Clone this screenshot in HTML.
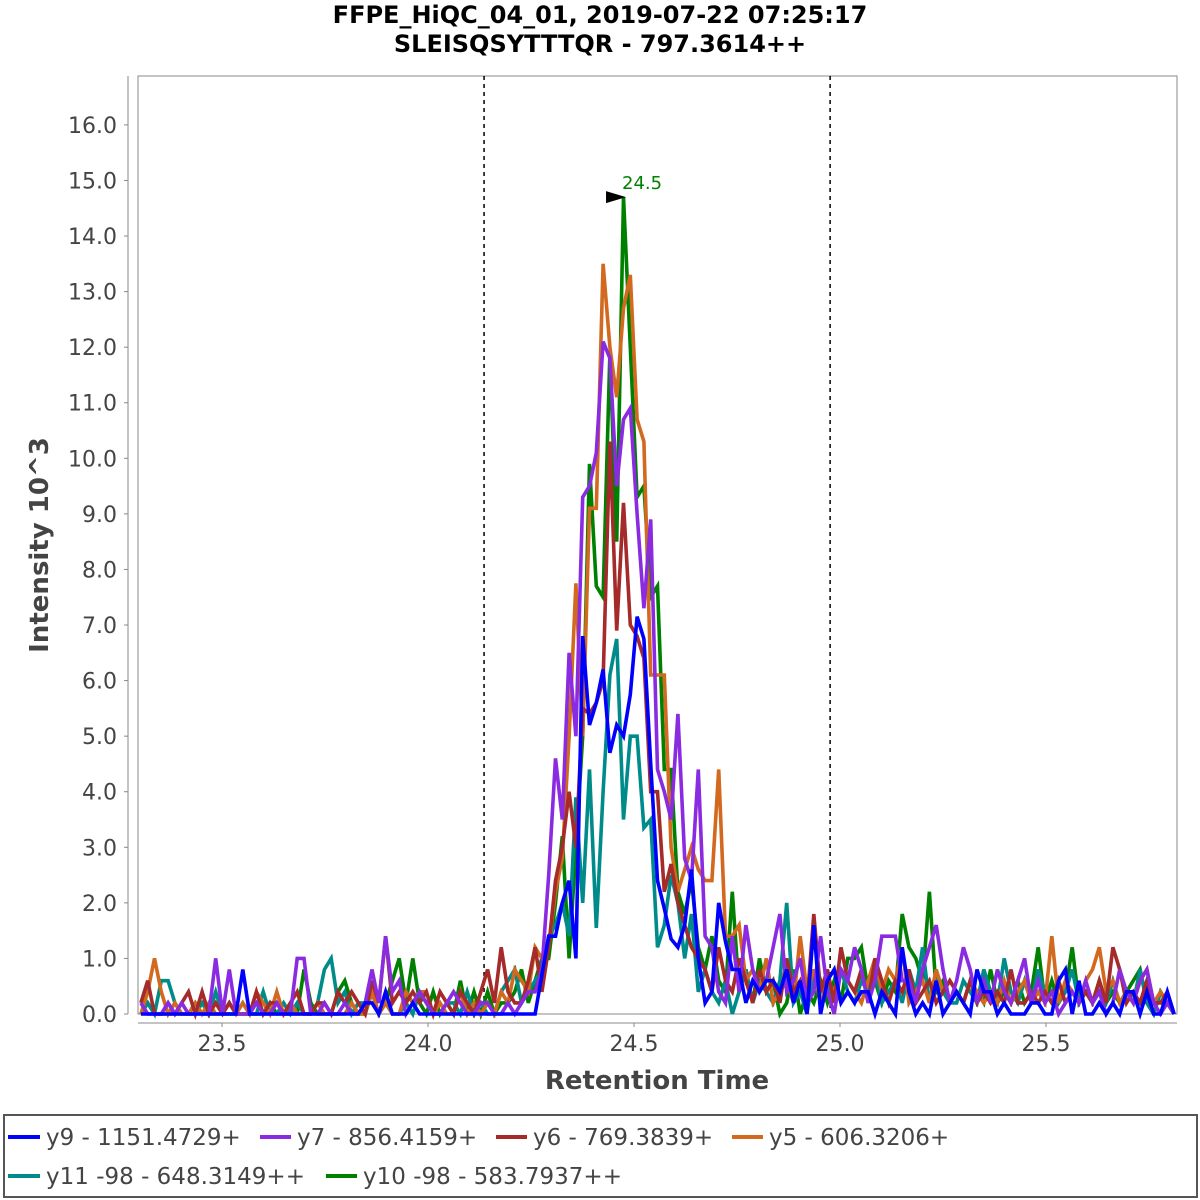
<!DOCTYPE html>
<html><head><meta charset="utf-8"><style>
html,body{margin:0;padding:0;background:#fff;}
svg{display:block;font-family:"DejaVu Sans","Liberation Sans",sans-serif;}
</style></head><body>
<svg id="chart" width="1200" height="1200" viewBox="0 0 1200 1200">
<rect x="0" y="0" width="1200" height="1200" fill="#fff"/>
<text x="600" y="23" text-anchor="middle" font-size="24" font-weight="bold" fill="#000">FFPE_HiQC_04_01, 2019-07-22 07:25:17</text>
<text x="600" y="52" text-anchor="middle" font-size="24" font-weight="bold" fill="#000">SLEISQSYTTTQR - 797.3614++</text>
<rect x="138" y="76" width="1039" height="938" fill="#fff" stroke="#888" stroke-width="1"/>
<g id="grid"></g>
<g id="series"></g>
<g id="axes"></g>
<text transform="translate(48,545) rotate(-90)" text-anchor="middle" font-size="26" font-weight="bold" fill="#444">Intensity 10^3</text>
<text x="657" y="1089" text-anchor="middle" font-size="26" font-weight="bold" fill="#444">Retention Time</text>
<g>
<rect x="4" y="1115" width="1193" height="82" fill="#fff" stroke="#555" stroke-width="2"/>
<g><line x1="8" y1="1137" x2="40" y2="1137" stroke="#0000ff" stroke-width="4"/><text x="46" y="1145" font-size="23" fill="#444">y9 - 1151.4729+</text></g>
<g><line x1="260" y1="1137" x2="291" y2="1137" stroke="#8a2be2" stroke-width="4"/><text x="297" y="1145" font-size="23" fill="#444">y7 - 856.4159+</text></g>
<g><line x1="496" y1="1137" x2="527" y2="1137" stroke="#a52a2a" stroke-width="4"/><text x="533" y="1145" font-size="23" fill="#444">y6 - 769.3839+</text></g>
<g><line x1="732" y1="1137" x2="763" y2="1137" stroke="#d2691e" stroke-width="4"/><text x="769" y="1145" font-size="23" fill="#444">y5 - 606.3206+</text></g>
<g><line x1="8" y1="1176" x2="40" y2="1176" stroke="#008b8b" stroke-width="4"/><text x="46" y="1184" font-size="23" fill="#444">y11 -98 - 648.3149++</text></g>
<g><line x1="326" y1="1176" x2="357" y2="1176" stroke="#008000" stroke-width="4"/><text x="363" y="1184" font-size="23" fill="#444">y10 -98 - 583.7937++</text></g>
</g>
</svg>
<script>
const tStart = 23.303;
const tStep = 0.0165;
const yTicks = [0,1,2,3,4,5,6,7,8,9,10,11,12,13,14,15,16];
const xTicks = [23.5,24.0,24.5,25.0,25.5];
const boundaries = [24.136, 24.976];
const apexTime = 24.5;
const apexValue = 14.7;
const y9 = [0,0,0,0,0,0,0,0,0,0, 0,0,0,0,0,0.8,0,0,0,0, 0,0,0,0,0,0,0,0,0,0, 0,0,0,0.2,0.2,0,0.4,0,0,0, 0.2,0,0,0,0,0,0,0,0,0, 0,0,0,0,0,0,0,0,0,0.7,
 1.4,1.4,2.0,2.4,1.0,6.8,5.2,5.6,6.2,4.7, 5.2,5.0,5.75,7.15,6.75,4.5,2.4,1.9,1.35,1.2, 1.6,2.6,1.0,0.2,0.4,2.0,1.3,0.8,0.8,0.2, 0.6,0.4,0.6,0.6,0.4,0.8,0.2,0.6,0,1.6,
 0,0.6,0.8,0.2,0.4,0.2,0.4,0.4,0,0.4, 0.2,0,1.2,0.4,0,0.2,0,0.6,0,0.2, 0.4,0.2,0,0.8,0.4,0.4,0,0.2,0,0, 0,0.2,0.2,0,0,0.6,0.8,0,0.6,0, 0,0.2,0,0.2,0,0.4,0.4,0,0.4,0, 0,0.4,0];
const y7 = [0.2,0,0,0,0.2,0,0.2,0,0,0, 0,1.0,0,0.8,0,0,0,0.2,0,0, 0.2,0,0,1.0,1.0,0,0,0.2,0,0, 0.2,0,0,0.2,0.8,0.2,1.4,0.4,0.6,0, 0.2,0.4,0.2,0,0,0.2,0.4,0.2,0,0, 0.2,0.2,0,0,0.2,0,0.2,0.4,0.4,0.8,
 2.5,4.6,3.5,6.5,5.0,9.3,9.5,10.1,12.1,11.8, 9.5,10.7,10.9,9.0,7.3,8.9,4.4,4.0,3.5,5.4, 2.8,2.4,4.4,1.4,1.2,0.4,0.2,1.4,0.4,1.6, 0.8,0.4,0.6,1.2,1.8,0.4,0.6,1.0,0.2,0.4,
 1.4,0.4,0,0.8,0.6,1.2,0.8,0.2,0.6,1.4, 1.4,1.4,0.6,0.6,0.2,0.8,1.2,1.6,0.8,0.2, 0.6,1.2,0.8,0.2,0.6,0.2,0.8,0.4,0.2,0.6, 1.0,0.2,0.6,0.2,0.4,0,0.2,0.4,0.2,0.6, 0.2,0.4,0,0.2,0.8,0.4,0.2,0.6,0.8,0.2, 0,0.2,0];
const y6 = [0.2,0.6,0,0,0.2,0,0.2,0.4,0,0.4, 0,0.2,0,0.2,0,0,0,0.4,0,0.2, 0.2,0,0.2,0.4,0,0,0.2,0.2,0,0.4, 0.2,0.4,0.2,0,0.6,0.2,1.4,0.2,0.4,0.2, 0.4,0.2,0.4,0,0.4,0.2,0,0.4,0.2,0, 0.4,0.8,0.2,1.2,0.4,0.2,0.2,0.6,1.2,0.4,
 1.2,2.4,3.0,4.0,3.0,5.5,5.4,5.6,6.0,10.3, 6.9,9.2,7.0,6.8,6.4,4.0,4.0,2.2,2.7,2.0, 1.6,1.2,1.0,0.8,0.4,1.2,0.6,0.4,1.0,0.6, 0.2,0.8,0.4,0.6,0.2,1.0,0.4,0.6,0.2,1.8,
 0.4,0.8,0.2,1.2,0.6,0.4,0.8,0.2,1.0,0.6, 0.2,0.6,0.4,0.8,0.2,0.4,0.6,0.2,0.4,0.6, 0.4,0.2,0.6,0.2,0.4,0.2,0.4,0.2,0.8,0.2, 0.2,0.4,0.2,0.4,0.2,0.6,0.2,0.4,0.2,0.4, 0.2,0.6,0.2,1.2,0.8,0.2,0.4,0.2,0.6,0.2, 0.2,0.4,0];
const y5 = [0,0.4,1.0,0.4,0,0.2,0,0,0.2,0, 0.2,0,0,0.2,0,0.2,0,0.4,0.2,0, 0.4,0,0.2,0,0,0,0.2,0,0,0, 0,0.2,0,0,0.4,0,0.2,0,0,0.4, 0.2,0.4,0.4,0,0.2,0,0,0.4,0,0.2, 0,0.2,0,0.4,0.2,0.8,0.6,0.4,1.2,1.0,
 1.2,2.2,2.8,5.0,7.75,5.0,9.1,9.1,13.5,12.0, 11.1,12.7,13.3,10.7,10.3,6.1,6.1,6.1,3.0,2.2, 2.6,3.0,2.6,2.4,2.4,4.4,1.4,1.4,1.6,0.6, 0.8,0.4,1.0,0.2,0.4,0.6,0.2,1.4,0.4,0.8,
 0.2,0.6,0.4,0.8,0.6,0.4,0.2,0.6,1.0,0.4, 0.8,0.6,1.2,0.2,0.4,0.6,0.2,0.8,0.4,0.6, 0.4,0.2,0.6,0.4,0.2,0.4,0.2,0.6,0.2,0.4, 0.6,0.2,0.4,0.2,1.4,0.2,0.6,0.4,0.2,0.6, 0.8,1.2,0.4,0.6,0.2,0.4,0.2,0.6,0.8,0.2, 0.4,0.2,0];
const y11 = [0,0.2,0,0.6,0.6,0.2,0,0,0,0.2, 0,0.4,0,0,0,0.2,0,0,0.4,0, 0,0.2,0,0.2,0,0,0.2,0.8,1.0,0.2, 0.4,0,0.2,0.2,0.4,0,0.2,0,0,0.2, 0,0.4,0.2,0,0,0.2,0.2,0,0.4,0, 0.2,0,0,0.4,0.6,0.8,0.2,0.4,0.6,0.8,
 1.4,1.6,2.0,1.4,3.9,2.0,4.4,1.55,4.0,6.1, 6.75,3.5,5.0,5.0,3.35,3.5,1.2,1.6,2.5,2.0, 1.0,1.8,0.4,0.8,0.4,0.2,0.6,0,0.4,0.8, 0.2,0.6,0.4,0.2,0.6,2.0,0.2,0.4,0,0.8,
 0.4,0.6,0.2,0.8,0.4,0.2,0.6,0.4,0.8,0.2, 0.4,0.6,0.2,0.8,0.4,1.2,0.2,0.6,0.4,0.2, 0.2,0.6,0.4,0.2,0.8,0.4,0.2,1.0,0.4,0.2, 0.6,0.2,0.8,0.4,0.2,0.2,0.4,0.8,0.2,0.4, 0.2,0.4,0.2,0.6,0.2,0.4,0.2,0.8,0.2,0, 0.4,0.2,0];
const y10 = [0,0.2,0,0,0,0,0,0,0.2,0, 0,0,0,0,0,0,0,0,0,0.2, 0,0,0,0,0.8,0.2,0,0,0,0.4, 0.6,0.2,0,0,0.4,0,0.2,0.6,1.0,0.2, 1.0,0.2,0,0.4,0,0.2,0,0.6,0,0.4, 0,0.4,0,0.2,0.2,0.4,0.8,0.2,0.6,1.0,
 1.0,2.0,3.2,1.0,3.0,5.0,9.9,7.7,7.5,11.9, 8.5,14.7,12.0,9.3,9.5,7.5,7.7,4.4,4.4,2.2, 1.8,2.4,1.2,0.8,1.4,0.6,0.4,2.2,0.4,0.8, 0.2,1.0,0.4,0.6,0,0.2,0.8,0,0.4,0.2,
 0.6,0.2,0.6,0.2,1.0,1.0,1.2,0.4,0.6,0.2, 0.6,0.4,1.8,1.2,1.0,0.6,2.2,0.4,0.6,0.2, 0.4,0.2,0.6,0.4,0.2,0.8,0.2,0.4,0.2,0.6, 0.2,0.4,1.2,0.2,0.6,0.2,0.4,1.2,0.2,0.4, 0.2,0.6,0.2,0.4,0.2,0.4,0.6,0.8,0.2,0, 0.4,0.2,0];

const NS = 'http://www.w3.org/2000/svg';
const PL = 138, PR = 1177, PT = 76, PB = 1014;
const xMin = 23.296, xMax = 25.818, yMin = 0, yMax = 16.88;
function xs(t){ return PL + (t - xMin) / (xMax - xMin) * (PR - PL); }
function ys(v){ return PB - (v - yMin) / (yMax - yMin) * (PB - PT); }
function mk(tag, attrs, parent){
  const e = document.createElementNS(NS, tag);
  for (const k in attrs) e.setAttribute(k, attrs[k]);
  parent.appendChild(e);
  return e;
}
const axes = document.getElementById('axes');
const grid = document.getElementById('grid');
const ser = document.getElementById('series');

const yAxis = mk('line', {x1:128, y1:PT, x2:128, y2:PB, stroke:'#888', 'stroke-width':1}, axes);


yTicks.forEach(v => {
  const y = ys(v);
  const tk = mk('line', {x1:124, y1:y, x2:128, y2:y, stroke:'#888', 'stroke-width':1}, axes);
  
  
  const tx = mk('text', {x:117, y:y + 8, 'text-anchor':'end', 'font-size':22, fill:'#444'}, axes);
  tx.textContent = v.toFixed(1);
  
  
});
const xAxis = mk('line', {x1:PL, y1:1023, x2:PR, y2:1023, stroke:'#888', 'stroke-width':1}, axes);


xTicks.forEach(v => {
  const x = xs(v);
  const tk = mk('line', {x1:x, y1:1023, x2:x, y2:1027, stroke:'#888', 'stroke-width':1}, axes);
  
  
  const tx = mk('text', {x:x, y:1051, 'text-anchor':'middle', 'font-size':22, fill:'#444'}, axes);
  tx.textContent = v.toFixed(1);
  
  
});
boundaries.forEach(b => {
  const l = mk('line', {x1:xs(b), y1:PT, x2:xs(b), y2:PB, stroke:'#000', 'stroke-width':1.5, 'stroke-dasharray':'4,4'}, grid);
  
  
});
const seriesList = [
  {name:'series-y10', data:y10, color:'#008000'},
  {name:'series-y11', data:y11, color:'#008b8b'},
  {name:'series-y5', data:y5, color:'#d2691e'},
  {name:'series-y6', data:y6, color:'#a52a2a'},
  {name:'series-y7', data:y7, color:'#8a2be2'},
  {name:'series-y9', data:y9, color:'#0000ff'}
];
seriesList.forEach(s => {
  const pts = s.data.map((v, i) => {
    const x = Math.min(PR, xs(tStart + i * tStep));
    return x.toFixed(1) + ',' + ys(v).toFixed(1);
  }).join(' ');
  const p = mk('polyline', {points:pts, fill:'none', stroke:s.color, 'stroke-width':3.6, 'stroke-linejoin':'miter'}, ser);
  
  
});
const ax = xs(apexTime), ay = ys(apexValue);
const arr = mk('polygon', {points:(ax-28)+','+(ay-6)+' '+(ax-8)+','+ay+' '+(ax-28)+','+(ay+6), fill:'#000'}, ser);


const lab = mk('text', {x:ax - 12, y:ay - 8, 'font-size':18, fill:'#008000'}, ser);
lab.textContent = apexTime.toFixed(1);


</script>
</body></html>
